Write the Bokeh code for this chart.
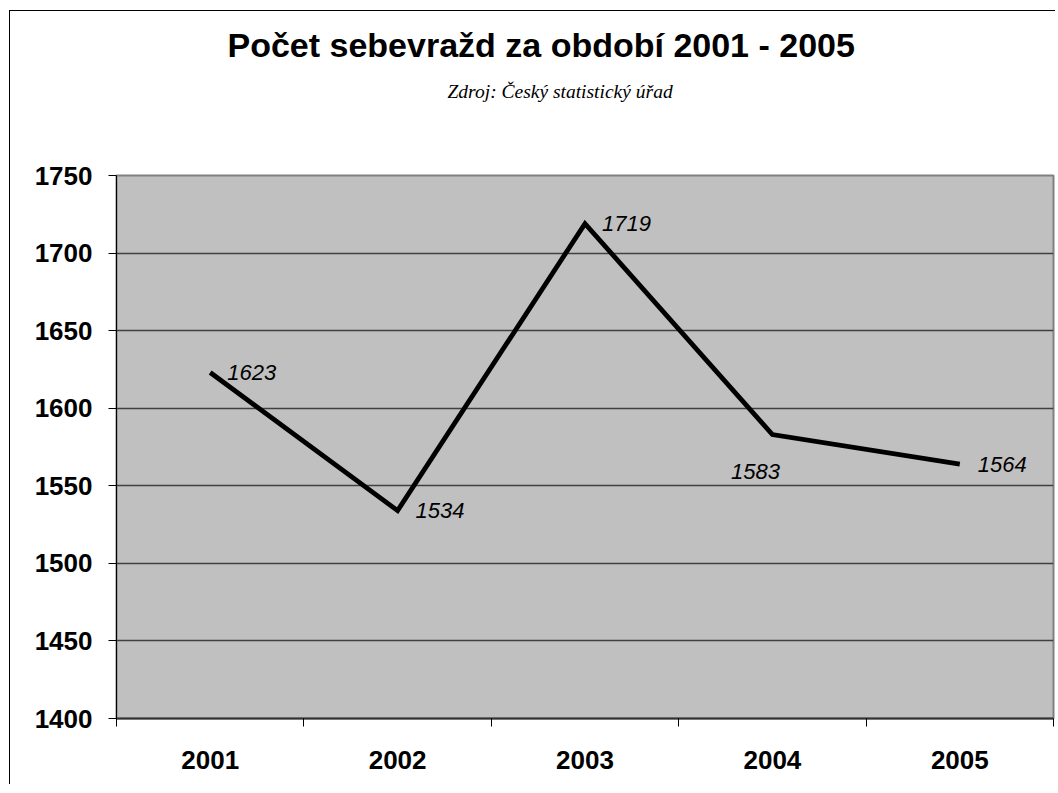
from bokeh.plotting import figure
from bokeh.models import Range1d, FixedTicker, Title, LabelSet, ColumnDataSource
from bokeh.core.properties import value
from bokeh.embed import file_html
from bokeh.resources import INLINE

# ---- data ----
years = ["2001", "2002", "2003", "2004", "2005"]
counts = [1623, 1534, 1719, 1583, 1564]
y_ticks = [1400, 1450, 1500, 1550, 1600, 1650, 1700, 1750]
title_text = "Počet sebevražd za období 2001 - 2005"
subtitle_text = "Zdroj: Český statistický úřad"

# label placement (style only)
lbl_dx = [17, 18, 17, -17, 18]
lbl_dy = [0, 0, 0, -37, 0]
lbl_align = ["left", "left", "left", "center", "left"]

xs = list(range(1, len(years) + 1))

p = figure(frame_width=937, frame_height=543, output_backend="svg", toolbar_location=None,
           x_range=Range1d(0.5, len(years) + 0.5), y_range=Range1d(1400, 1750),
           min_border_left=106, min_border_right=2, min_border_top=164, min_border_bottom=66)

p.styles = {"border-left": "1px solid black", "border-top": "1px solid black",
            "margin-left": "9px", "margin-top": "10px"}

p.background_fill_color = "#C0C0C0"
p.border_fill_color = "white"
p.outline_line_color = "#808080"
p.outline_line_width = 2

# spacer between frame and subtitle
p.add_layout(Title(text=" ", text_font_size="1px", standoff=66), "above")
p.add_layout(Title(text=subtitle_text, text_font="Liberation Serif", text_font_style="italic",
                   text_font_size="19.5px", align="left", text_color="black",
                   standoff=10, offset=331), "above")
p.add_layout(Title(text=title_text, text_font="Liberation Sans", text_font_style="bold",
                   text_font_size="34px", align="left", text_color="black",
                   standoff=20, offset=111), "above")

# axes
p.yaxis.ticker = FixedTicker(ticks=y_ticks)
p.yaxis.major_label_text_font = "Liberation Sans"
p.yaxis.major_label_text_font_style = "bold"
p.yaxis.major_label_text_font_size = "26px"
p.yaxis.major_label_text_color = "black"
p.yaxis.major_tick_out = 8
p.yaxis.major_tick_in = 0
p.yaxis.minor_tick_line_color = None
p.yaxis.axis_line_color = "black"
p.yaxis.major_tick_line_color = "black"
p.yaxis.major_label_standoff = 16

p.xaxis.ticker = FixedTicker(ticks=xs, minor_ticks=[x - 0.5 for x in xs] + [len(xs) + 0.5])
p.xaxis.major_label_overrides = {x: y for x, y in zip(xs, years)}
p.xaxis.major_label_text_font = "Liberation Sans"
p.xaxis.major_label_text_font_style = "bold"
p.xaxis.major_label_text_font_size = "26px"
p.xaxis.major_label_text_color = "black"
p.xaxis.major_tick_line_color = None
p.xaxis.minor_tick_line_color = "black"
p.xaxis.minor_tick_out = 8
p.xaxis.minor_tick_in = 0
p.xaxis.axis_line_color = "#333333"
p.xaxis.axis_line_width = 2
p.xaxis.major_label_standoff = 24

p.xgrid.visible = False
p.ygrid.ticker = FixedTicker(ticks=y_ticks)
p.ygrid.grid_line_color = "#404040"
p.ygrid.grid_line_width = 1.5

p.line(xs, counts, line_color="black", line_width=4.8, line_join="miter")

src = ColumnDataSource(dict(x=xs, y=counts, t=[str(c) for c in counts],
                            dx=lbl_dx, dy=lbl_dy, al=lbl_align))
p.add_layout(LabelSet(x="x", y="y", text="t", source=src, x_offset="dx", y_offset="dy",
                      text_align="al", text_baseline="middle",
                      text_font=value("Liberation Sans"),
                      text_font_style="italic", text_font_size="22px", text_color="black"))

open("out.html", "w").write(file_html(p, INLINE))
